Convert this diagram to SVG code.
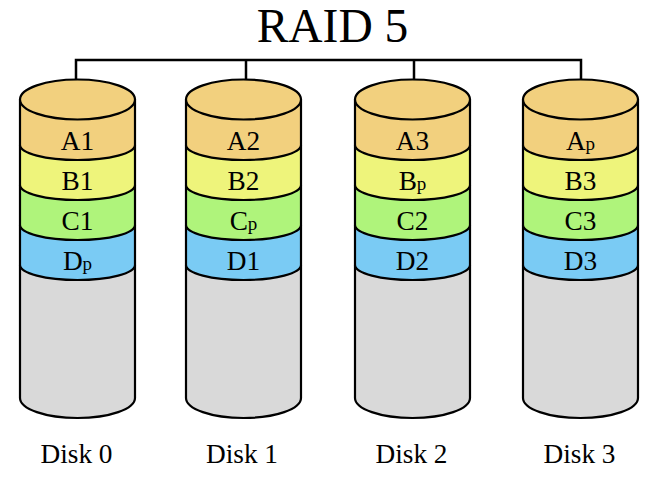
<svg xmlns="http://www.w3.org/2000/svg" xmlns:xlink="http://www.w3.org/1999/xlink" width="650" height="477" viewBox="0 0 650 477">
<style>
  .lbl { font-family: "Liberation Serif", "Times New Roman", serif; font-size: 27.3px; fill: #000; text-anchor: middle; }
  .sub { font-size: 19px; }
  .title { font-family: "Liberation Serif", "Times New Roman", serif; font-size: 47.5px; fill: #000; text-anchor: middle; }
  .edge { stroke: #000; stroke-width: 2.2; stroke-linejoin: round; stroke-linecap: round; }
  .conn { fill: none; stroke: #000; stroke-width: 2.5; }
</style>
<defs>
  <g id="cyl">
    <path class="edge" fill="#D9D9D9" d="M0,265 L0,398 A57.5,20 0 0 0 115,398 L115,265 Z"/>
    <path class="edge" fill="#7ACBF4" d="M0,225 L0,265 A57.5,15 0 0 0 115,265 L115,225 Z"/>
    <path class="edge" fill="#AFF47B" d="M0,185 L0,225 A57.5,15 0 0 0 115,225 L115,185 Z"/>
    <path class="edge" fill="#EEF47B" d="M0,145 L0,185 A57.5,15 0 0 0 115,185 L115,145 Z"/>
    <path class="edge" fill="#F2D07E" d="M0,99.5 L0,145 A57.5,15 0 0 0 115,145 L115,99.5 Z"/>
    <ellipse class="edge" fill="#F2D07E" cx="57.5" cy="99.5" rx="57.5" ry="20"/>
  </g>
</defs>
<text class="title" x="332.5" y="41.5">RAID 5</text>
<g id="connectors">
  <path class="conn" d="M76,99 V60 H581 V99"/>
  <path class="conn" d="M246,60 V99"/>
  <path class="conn" d="M414,60 V99"/>
</g>
<g id="disk0">
  <use xlink:href="#cyl" x="20" y="0"/>
  <text class="lbl" x="77.5" y="149.5">A1</text>
  <text class="lbl" x="77.5" y="189.5">B1</text>
  <text class="lbl" x="77.5" y="229.5">C1</text>
  <text class="lbl" x="77.5" y="269.5">D<tspan class="sub">p</tspan></text>
  <text class="lbl" x="76.5" y="463">Disk 0</text>
</g>
<g id="disk1">
  <use xlink:href="#cyl" x="186" y="0"/>
  <text class="lbl" x="243.5" y="149.5">A2</text>
  <text class="lbl" x="243.5" y="189.5">B2</text>
  <text class="lbl" x="243.5" y="229.5">C<tspan class="sub">p</tspan></text>
  <text class="lbl" x="243.5" y="269.5">D1</text>
  <text class="lbl" x="242" y="463">Disk 1</text>
</g>
<g id="disk2">
  <use xlink:href="#cyl" x="355" y="0"/>
  <text class="lbl" x="412.5" y="149.5">A3</text>
  <text class="lbl" x="412.5" y="189.5">B<tspan class="sub">p</tspan></text>
  <text class="lbl" x="412.5" y="229.5">C2</text>
  <text class="lbl" x="412.5" y="269.5">D2</text>
  <text class="lbl" x="411.5" y="463">Disk 2</text>
</g>
<g id="disk3">
  <use xlink:href="#cyl" x="523" y="0"/>
  <text class="lbl" x="580.5" y="149.5">A<tspan class="sub">p</tspan></text>
  <text class="lbl" x="580.5" y="189.5">B3</text>
  <text class="lbl" x="580.5" y="229.5">C3</text>
  <text class="lbl" x="580.5" y="269.5">D3</text>
  <text class="lbl" x="579.5" y="463">Disk 3</text>
</g>
</svg>
